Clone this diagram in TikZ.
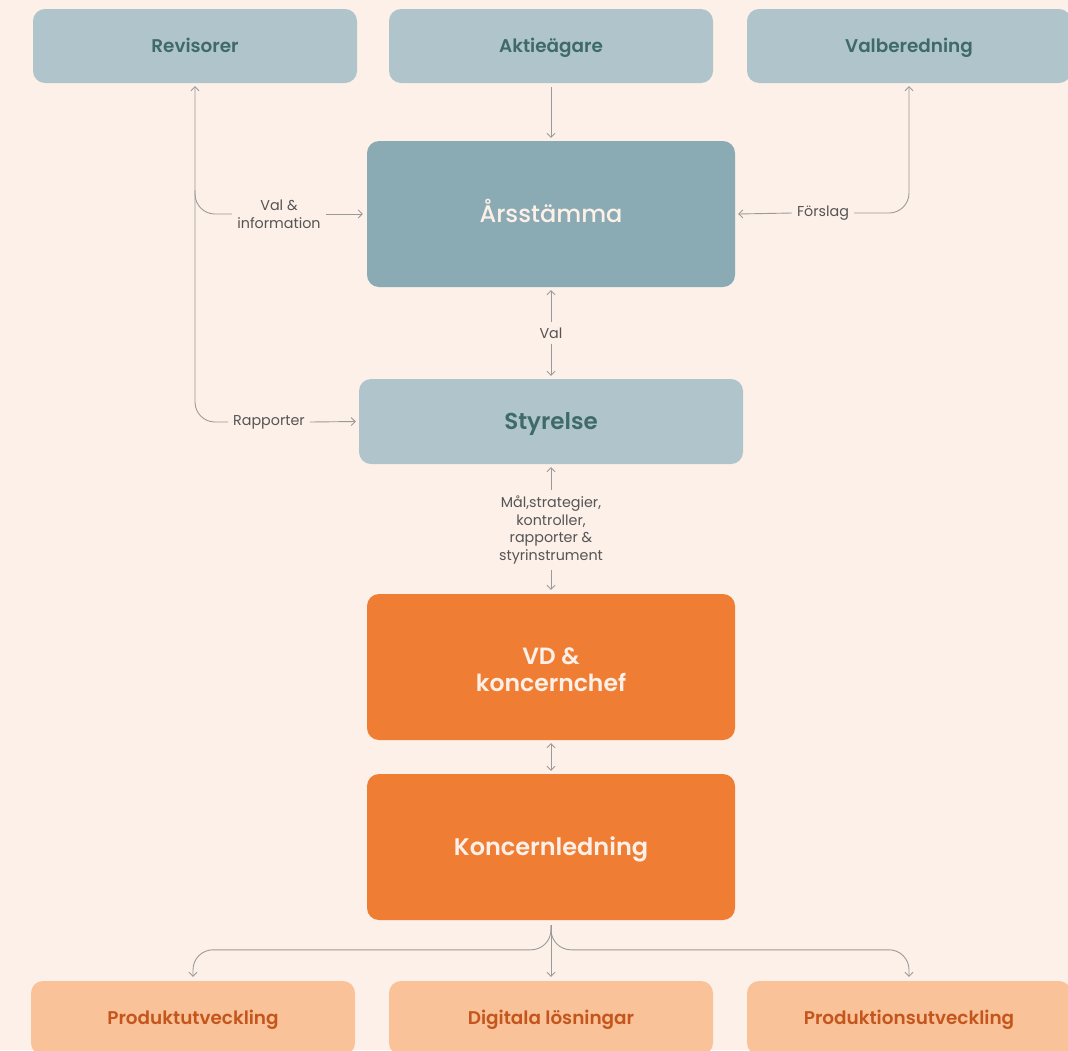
\documentclass[tikz,border=0pt]{standalone}
\usepackage{fontspec}
\setmainfont{Poppins}
\IfFontExistsTF{Poppins SemiBold}{\newfontfamily\semib{Poppins SemiBold}}{\newcommand\semib{\bfseries}}
\IfFontExistsTF{Poppins Medium}{\newfontfamily\medf{Poppins Medium}}{\newcommand\medf{}}
\usetikzlibrary{arrows.meta}
\definecolor{bg}{HTML}{FDF0E8}
\definecolor{lightbox}{HTML}{B0C4CB}
\definecolor{darkbox}{HTML}{8BABB4}
\definecolor{tealtxt}{HTML}{3E6B69}
\definecolor{orangebox}{HTML}{EF7E34}
\definecolor{paleorange}{HTML}{F9C299}
\definecolor{orangetxt}{HTML}{C4561D}
\definecolor{linegrey}{HTML}{9A9A9A}
\definecolor{lbltxt}{HTML}{555555}
\tikzset{
  box/.style={rounded corners=12pt, inner sep=0pt, align=center},
  capc/.style={text height=#1, text depth=0pt},
  smallbox/.style={box, minimum width=324pt, minimum height=74pt},
  topbox/.style={smallbox, fill=lightbox, text=tealtxt, font=\fontsize{18.4}{22}\semib, capc=12.9pt},
  botbox/.style={smallbox, fill=paleorange, text=orangetxt, font=\fontsize{18.4}{22}\semib, capc=12.9pt},
  bigbox/.style={box, minimum width=368pt, minimum height=146pt},
  orbox/.style={bigbox, fill=orangebox, text=bg, font=\fontsize{24}{29}\semib},
  lbl/.style={text=lbltxt, font=\fontsize{14.3}{17.8}\selectfont, align=center, inner sep=5pt},
  conn/.style={draw=linegrey, line width=0.9pt},
  arr/.style={conn, -{Straight Barb[length=4pt,width=8pt]}},
  darr/.style={conn, {Straight Barb[length=4pt,width=8pt]}-{Straight Barb[length=4pt,width=8pt]}},
}
\begin{document}
\begin{tikzpicture}[x=1pt,y=-1pt]
\clip (0,0) rectangle (1068,1050);
\fill[bg] (0,0) rectangle (1068,1050);
% top row
\node[topbox] (rev) at (195,46) {Revisorer};
\node[topbox] (akt) at (551,46) {Aktieägare};
\node[topbox] (valb) at (909,46) {Valberedning};
% middle
\node[bigbox, fill=darkbox, text=bg, font=\fontsize{24}{29}\medf, capc=16.8pt] (ars) at (551,214) {Årsstämma};
\node[box, minimum width=384pt, minimum height=85pt, fill=lightbox, text=tealtxt, font=\fontsize{23}{28}\semib, capc=16.1pt] (sty) at (551,421.5) {Styrelse};
\node[orbox, label={[text=bg, font=\fontsize{23.5}{27}\semib, align=center, yshift=-3pt]center:{VD \&\\koncernchef}}] (vd) at (551,667) {};
\node[orbox, capc=16.8pt] (kl) at (551,847) {Koncernledning};
% bottom row
\node[botbox] (pu) at (193,1018) {Produktutveckling};
\node[botbox] (dig) at (551,1018) {Digitala lösningar};
\node[botbox] (pru) at (909,1018) {Produktionsutveckling};
% labels
\node[lbl] (vallab) at (279,214) {Val \&\\information};
\node[lbl] (raplab) at (269,422) {Rapporter};
\node[lbl] (forlab) at (823,213) {Förslag};
\node[lbl] (val2) at (551,333) {Val};
\node[lbl] (mal) at (551,530) {Mål,strategier,\\kontroller,\\rapporter \&\\styrinstrument};
\coordinate (vbr) at (195,190);
% connectors
\draw[arr] ([yshift=-4pt]akt.south) -- ([yshift=3pt]ars.north);
\draw[arr, rounded corners=20pt] (raplab.west) -| ([yshift=-3pt]rev.south);
\draw[conn, rounded corners=20pt] (vbr) |- (vallab.west);
\draw[arr] (vallab.east) -- ([xshift=-4pt]ars.west);
\draw[arr] (raplab.east) -- ([xshift=-3pt]sty.west);
\draw[arr] (forlab.west) -- ([xshift=3pt]ars.east);
\draw[arr, rounded corners=20pt] (forlab.east) -| ([yshift=-3pt]valb.south);
\draw[arr] (val2.north) -- ([yshift=-3pt]ars.south);
\draw[arr] (val2.south) -- ([yshift=3pt]sty.north);
\draw[arr] (mal.north) -- ([yshift=-3pt]sty.south);
\draw[arr] (mal.south) -- ([yshift=4pt]vd.north);
\draw[darr] ([yshift=-3pt]vd.south) -- ([yshift=3pt]kl.north);
\draw[arr] ([yshift=-5pt]kl.south) -- ([yshift=4pt]dig.north);
\draw[arr, rounded corners=20pt] ([yshift=-5pt]kl.south) |- ([yshift=31pt]pu.north) -- ([yshift=4pt]pu.north);
\draw[arr, rounded corners=20pt] ([yshift=-5pt]kl.south) |- ([yshift=31pt]pru.north) -- ([yshift=4pt]pru.north);
\end{tikzpicture}
\end{document}
